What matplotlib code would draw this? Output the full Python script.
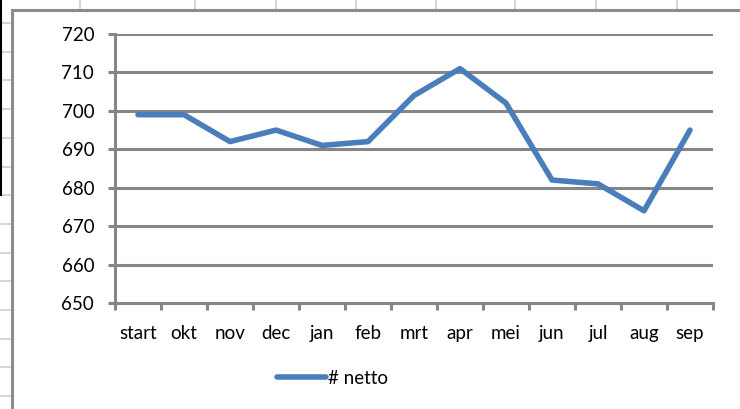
import matplotlib
matplotlib.use('Agg')
import matplotlib.pyplot as plt
from matplotlib.lines import Line2D
from matplotlib.patches import Rectangle

# data
months = ['start', 'okt', 'nov', 'dec', 'jan', 'feb', 'mrt', 'apr', 'mei', 'jun', 'jul', 'aug', 'sep']
netto = [699, 699, 692, 695, 691, 692, 704, 711, 702, 682, 681, 674, 695]
yticks = [650, 660, 670, 680, 690, 700, 710, 720]
series_name = '# netto'

W, H = 740, 409
plt.rcParams['font.family'] = ['Lato', 'DejaVu Sans']

fig = plt.figure(figsize=(W / 100, H / 100), dpi=100)
fig.patch.set_facecolor('white')

def fx(x):
    return x / W

def fy(y):
    return 1 - y / H

# spreadsheet cells behind the chart
cell = '#d0d7e5'
y = 23.0
while y < H:
    fig.add_artist(Line2D([fx(0), fx(13)], [fy(y), fy(y)], color=cell, lw=1.5, zorder=-3))
    y += 28.7
for x in [80, 195, 276, 356, 436, 515, 596, 677]:
    fig.add_artist(Line2D([fx(x), fx(x)], [fy(0), fy(11)], color=cell, lw=1.5, zorder=-3))
fig.add_artist(Line2D([fx(0.8), fx(0.8)], [fy(0), fy(195)], color='black', lw=1.5, zorder=-3))

# chart frame
fig.add_artist(Rectangle((fx(12), fy(420)), fx(740), fy(10) - fy(420), transform=fig.transFigure,
                         facecolor='white', edgecolor='#8c8c8c', lw=2.2, zorder=-2))

grey = '#868686'
ax = fig.add_axes([fx(115), fy(303), fx(713) - fx(115), fy(34) - fy(303)])
ax.set_facecolor('none')

xs = [i + 0.5 for i in range(len(months))]
ax.plot(xs, netto, color='#4a7ebb', lw=4, solid_capstyle='round', label=series_name, zorder=3)

ax.set_xlim(0, len(months))
ax.set_ylim(650, 720)
ax.set_yticks(yticks)
ax.yaxis.grid(True, color=grey, lw=2.2)
ax.set_axisbelow(True)

ax.set_xticks(range(len(months) + 1))
ax.set_xticklabels([])
ax.set_xticks(xs, minor=True)
ax.set_xticklabels(months, minor=True)
ax.tick_params(axis='x', which='minor', length=0, pad=16, labelsize=13.5)
ax.tick_params(axis='x', which='major', length=5, width=2.2, color=grey, direction='out')
ax.tick_params(axis='y', length=5, width=2.2, color=grey, pad=10, labelsize=13.5)

for s in ['top', 'right']:
    ax.spines[s].set_visible(False)
for s in ['left', 'bottom']:
    ax.spines[s].set_color(grey)
    ax.spines[s].set_linewidth(2.2)

fig.legend(loc='center left', bbox_to_anchor=(fx(277), fy(378)), frameon=False,
           borderpad=0, borderaxespad=0, handlelength=2.6, handletextpad=0.1, fontsize=13.5)

fig.savefig('out.png', dpi=100)
